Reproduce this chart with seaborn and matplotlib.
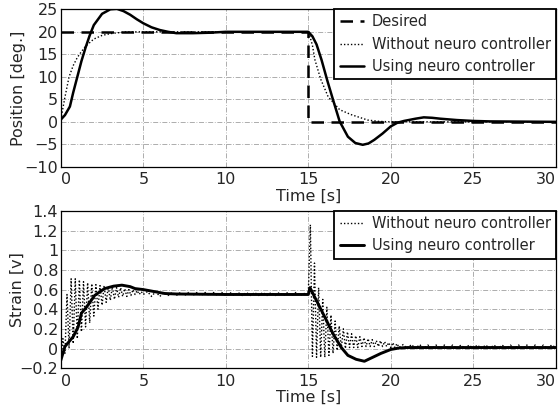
import numpy as np
import pandas as pd
import matplotlib
matplotlib.use("Agg")
import matplotlib.pyplot as plt
import seaborn as sns

sns.set_style("white")
plt.rcParams["font.family"] = ["DejaVu Sans"]

# ---------------- Position response ----------------
pos_desired_t = [0, 15, 15, 30]
pos_desired_v = [20, 20, 0, 0]

pos_without_t = [0, 0.25, 0.5, 0.75, 1.0, 1.25, 1.5, 2.0, 2.5, 3.0, 3.5, 4.0, 5.0,
                 10.0, 15.0, 15.1, 15.25, 15.4, 15.75, 16.2, 16.9, 17.6, 18.6,
                 19.3, 20.0, 25.0, 30.0]
pos_without_v = [0.5, 5.5, 10.0, 12.5, 14.3, 15.6, 16.8, 18.4, 19.2, 19.6, 19.8, 20.0, 20.0,
                 20.0, 20.0, 19.0, 17.0, 13.8, 9.5, 5.6, 2.7, 1.6, 0.4,
                 0.1, 0.0, 0.0, 0.0]

pos_using_t = [0, 0.25, 0.55, 0.75, 1.0, 1.25, 1.5, 1.75, 2.0, 2.5, 3.0, 3.4, 3.8,
               4.2, 4.6, 5.0, 5.5, 6.0, 6.5, 7.0, 8.0, 9.0, 10.0, 15.0,
               15.25, 15.5, 15.8, 16.15, 16.5, 16.9, 17.4, 17.85, 18.3, 18.65,
               19.0, 19.5, 20.0, 20.4, 20.8, 21.5, 22.0, 22.5, 23.0, 24.0,
               25.0, 26.0, 30.0]
pos_using_v = [0.5, 1.5, 3.4, 6.5, 10.0, 13.5, 16.5, 19.2, 21.5, 24.0, 25.0, 25.1, 24.6,
               23.8, 22.8, 21.9, 21.0, 20.4, 20.0, 19.7, 19.7, 19.8, 20.0, 20.0,
               19.0, 17.2, 13.8, 9.2, 4.9, 0.1, -3.3, -4.7, -5.1, -4.8,
               -4.0, -2.6, -1.0, -0.2, 0.2, 0.7, 1.0, 0.9, 0.7, 0.4,
               0.2, 0.1, 0.0]

# ---------------- Strain response ----------------
strain_using_t = [0, 0.25, 0.5, 0.75, 1.05, 1.25, 1.55, 2.05, 2.65, 3.2, 3.7, 4.2, 4.5,
                  5.0, 6.3, 7.0, 10.0, 15.0, 15.1, 15.4, 16.0, 16.5, 17.0, 17.4,
                  17.9, 18.4, 18.9, 19.4, 20.0, 20.5, 21.0, 25.0, 30.0]
strain_using_v = [-0.12, 0.02, 0.07, 0.12, 0.22, 0.36, 0.42, 0.54, 0.61, 0.635, 0.645, 0.63, 0.61,
                  0.6, 0.56, 0.555, 0.55, 0.55, 0.62, 0.52, 0.32, 0.15, 0.01, -0.07,
                  -0.11, -0.13, -0.09, -0.05, -0.01, 0.005, 0.01, 0.01, 0.01]

# oscillating strain without the neuro controller, sampled on half-periods
strain_wo_start_v = [-0.15, 0.1, -0.05, 0.55, 0.0, 0.71, 0.05, 0.71, 0.1, 0.7,
                     0.17, 0.68, 0.22, 0.67, 0.26, 0.66, 0.33, 0.65, 0.4, 0.64,
                     0.44, 0.64, 0.47, 0.63, 0.49, 0.63, 0.5, 0.62, 0.52, 0.62,
                     0.53, 0.61, 0.53, 0.6, 0.54, 0.6, 0.55, 0.59, 0.55, 0.58,
                     0.55]
strain_wo_hold_v = [0.58, 0.53, 0.58, 0.53, 0.57, 0.54, 0.57, 0.54, 0.57, 0.54,
                    0.57, 0.54, 0.57, 0.54, 0.57, 0.54, 0.57, 0.54, 0.57, 0.54,
                    0.57, 0.54, 0.57, 0.54, 0.57, 0.54, 0.57, 0.54, 0.57, 0.54,
                    0.57, 0.54, 0.57, 0.54, 0.57, 0.54, 0.57, 0.54, 0.56]
strain_wo_drop_v = [0.55, 1.26, -0.08, 0.87, -0.09, 0.62, -0.09, 0.5, -0.09, 0.42,
                    -0.07, 0.34, -0.05, 0.28, -0.02, 0.23, 0.0, 0.2, 0.0, 0.17,
                    0.01, 0.15, 0.01, 0.13, 0.01, 0.12, 0.02, 0.11, 0.02, 0.1,
                    0.02, 0.09, 0.02, 0.08, 0.02, 0.08, 0.02, 0.07, 0.02, 0.06,
                    0.01, 0.06, 0.01, 0.05, 0.01]
strain_wo_end_v = [0.04, 0.0, 0.04, 0.0, 0.04, 0.0, 0.035, 0.0, 0.035, 0.0,
                   0.035, 0.0, 0.035, 0.0, 0.035, 0.0, 0.035, 0.0, 0.035, 0.0,
                   0.035, 0.0, 0.035, 0.0, 0.035, 0.0, 0.035, 0.0, 0.035, 0.0,
                   0.035, 0.0, 0.035, 0.0, 0.035, 0.0, 0.035, 0.01]

strain_wo_t = np.concatenate([
    np.arange(len(strain_wo_start_v)) * 0.125,
    5.25 + np.arange(len(strain_wo_hold_v)) * 0.25,
    15.0 + np.arange(len(strain_wo_drop_v)) * 0.125,
    20.75 + np.arange(len(strain_wo_end_v)) * 0.25,
])
strain_wo_v = strain_wo_start_v + strain_wo_hold_v + strain_wo_drop_v + strain_wo_end_v

pos_yticks = [-10, -5, 0, 5, 10, 15, 20, 25]
pos_yticklabels = ["\u221210", "\u22125", "0", "5", "10", "15", "20", "25"]
strain_yticks = [-0.2, 0, 0.2, 0.4, 0.6, 0.8, 1.0, 1.2, 1.4]
strain_yticklabels = ["\u22120.2", "0", "0.2", "0.4", "0.6", "0.8", "1", "1.2", "1.4"]
xticks = [0, 5, 10, 15, 20, 25, 30]

fig = plt.figure(figsize=(5.58, 4.05), dpi=100)
ax1 = fig.add_axes([0.109, 0.588, 0.887, 0.389])
ax2 = fig.add_axes([0.109, 0.091, 0.887, 0.388])

df_des = pd.DataFrame({"t": pos_desired_t, "v": pos_desired_v})
df_wo = pd.DataFrame({"t": pos_without_t, "v": pos_without_v})
df_us = pd.DataFrame({"t": pos_using_t, "v": pos_using_v})
sns.lineplot(data=df_des, x="t", y="v", ax=ax1, color="black", lw=1.8,
             linestyle=(0, (5, 3)), label="Desired", sort=False, estimator=None)
sns.lineplot(data=df_wo, x="t", y="v", ax=ax1, color="black", lw=1.0,
             linestyle=(0, (1, 1.5)), label="Without neuro controller", estimator=None)
sns.lineplot(data=df_us, x="t", y="v", ax=ax1, color="black", lw=1.8,
             label="Using neuro controller", estimator=None)

df_swo = pd.DataFrame({"t": strain_wo_t, "v": strain_wo_v})
df_sus = pd.DataFrame({"t": strain_using_t, "v": strain_using_v})
sns.lineplot(data=df_swo, x="t", y="v", ax=ax2, color="black", lw=1.0,
             linestyle=(0, (1, 1.5)), label="Without neuro controller", estimator=None)
sns.lineplot(data=df_sus, x="t", y="v", ax=ax2, color="black", lw=2.1,
             label="Using neuro controller", estimator=None)

for ax in (ax1, ax2):
    ax.set_xlim(0, 30)
    ax.set_xticks(xticks)
    ax.set_xticklabels([str(x) for x in xticks])
    labels = ax.get_xticklabels()
    labels[0].set_horizontalalignment("left")
    labels[-1].set_horizontalalignment("right")
    ax.grid(True, color="#a0a0a0", lw=0.6, linestyle=(0, (6, 2, 1, 2)))
    ax.tick_params(axis="x", length=0, labelsize=11.5, pad=4)
    ax.tick_params(axis="y", length=0, labelsize=11.5, pad=2)
    for s in ax.spines.values():
        s.set_color("black")
        s.set_linewidth(0.9)
    ax.set_xlabel("Time [s]", fontsize=11.5, labelpad=1)
    leg = ax.legend(loc="upper right", borderaxespad=0, fancybox=False,
                    edgecolor="black", fontsize=10.5, handlelength=1.7,
                    handletextpad=0.5, labelspacing=0.5, borderpad=0.35,
                    framealpha=1)
    leg.get_frame().set_linewidth(1.3)

ax1.set_ylim(-10, 25)
ax1.set_yticks(pos_yticks)
ax1.set_yticklabels(pos_yticklabels)
ax1.set_ylabel("Position [deg.]", fontsize=11.5)
ax1.yaxis.set_label_coords(-0.07, 0.5)

ax2.set_ylim(-0.2, 1.4)
ax2.set_yticks(strain_yticks)
ax2.set_yticklabels(strain_yticklabels)
ax2.set_ylabel("Strain [v]", fontsize=11.5)
ax2.yaxis.set_label_coords(-0.072, 0.5)

fig.savefig("out.png", dpi=100)
